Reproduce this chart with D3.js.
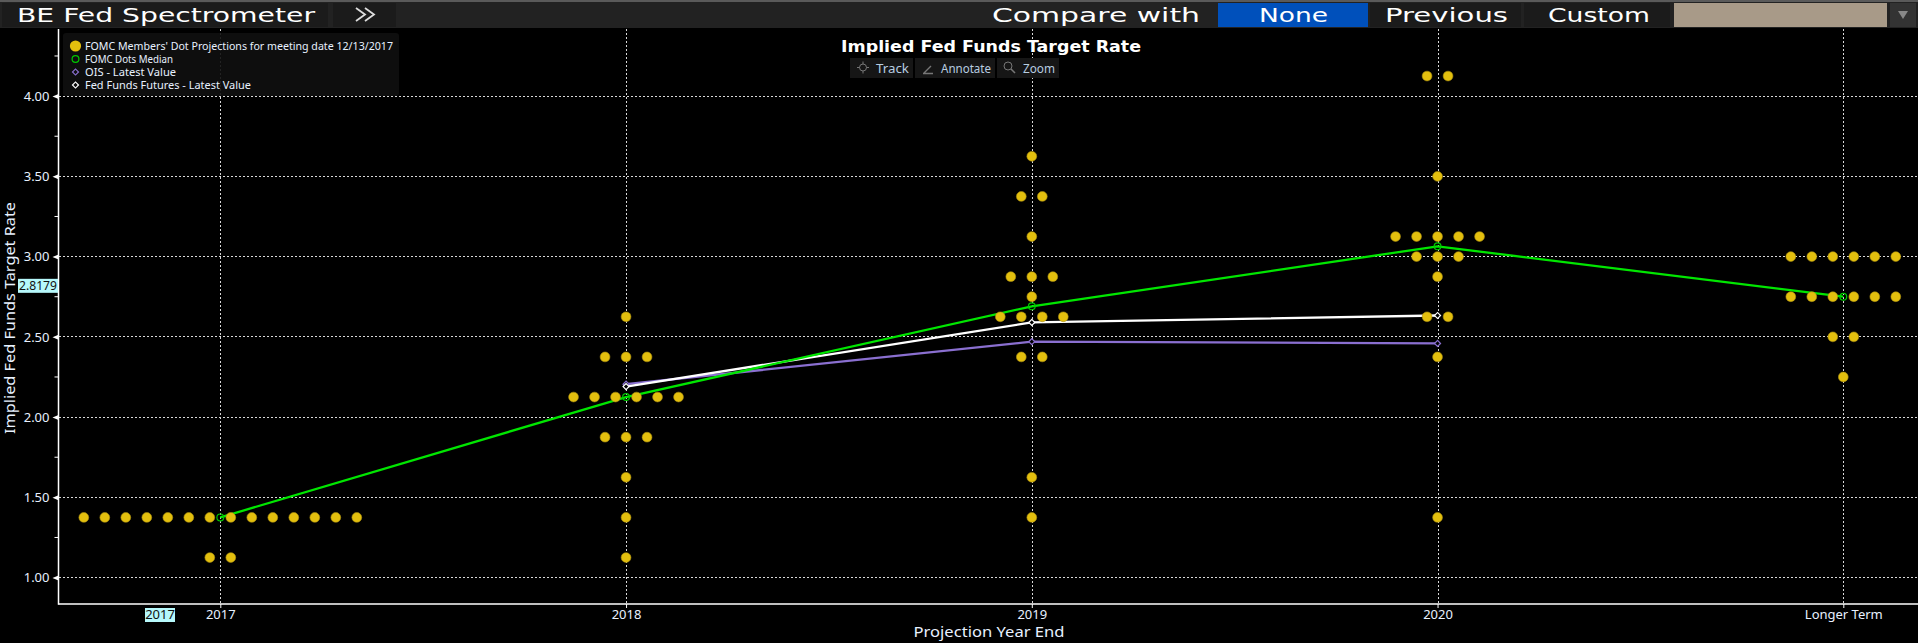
<!DOCTYPE html>
<html><head><meta charset="utf-8">
<script src="https://cdn.jsdelivr.net/npm/d3@7"></script>
<style>
html,body{margin:0;padding:0;background:#000;width:1918px;height:643px;overflow:hidden}
svg{display:block}
</style></head><body><svg id="c" width="1918" height="643"></svg>
<script>
const categories = ["2017","2018","2019","2020","Longer Term"];
const dots2017 = [[1.375,14],[1.125,2]];
const dots2018 = [[2.625,1],[2.375,3],[2.125,6],[1.875,3],[1.625,1],[1.375,1],[1.125,1]];
const dots2019 = [[3.625,1],[3.375,2],[3.125,1],[2.875,3],[2.75,1],[2.625,4],[2.375,2],[1.625,1],[1.375,1]];
const dots2020 = [[4.125,2],[3.5,1],[3.125,5],[3.0,3],[2.875,1],[2.625,2],[2.375,1],[1.375,1]];
const dotsLong = [[3.0,6],[2.75,6],[2.5,2],[2.25,1]];
const medianValues = [1.375,2.125,2.69,3.064,2.75];
const curveCategories = ["2018","2019","2020"];
const oisValues = [2.205,2.47,2.459];
const futuresValues = [2.19,2.59,2.633];
const yTicks = [1,1.5,2,2.5,3,3.5,4];
const yMinorTicks = [1.25,1.75,2.25,2.75,3.25,3.75,4.25];
const legendLabels = ["FOMC Members' Dot Projections for meeting date 12/13/2017","FOMC Dots Median","OIS - Latest Value","Fed Funds Futures - Latest Value"];
const lastValue = 2.8179;
const lastCategoryTag = "2017";

const svg = d3.select("#c");
const labelFont = "'Noto Sans', sans-serif";
const wideFont = "'DejaVu Sans', sans-serif";
const textColor = "#e8f1ff";
const axisX = 58.5, axisY = 604, plotTop = 29, plotRight = 1918;
const x = d3.scalePoint().domain(categories).range([220.3,1843.3]);
const y = d3.scaleLinear().domain([1,4]).range([577.6,96.1]);
const dotStep = 21;

// ---------- header bar ----------
const head = svg.append("g");
head.append("rect").attr("width",1918).attr("height",28).attr("fill","#222");
head.append("rect").attr("width",1918).attr("height",2).attr("fill","#5a5a5a");
function hbtn(x0,x1,fill){
  head.append("rect").attr("x",x0).attr("y",3).attr("width",x1-x0).attr("height",24).attr("fill",fill);
}
function htext(label,x0,x1){
  head.append("text").attr("x",x0).attr("y",22).attr("fill","#fff")
    .attr("font-family",wideFont).attr("font-size",20)
    .attr("textLength",x1-x0).attr("lengthAdjust","spacingAndGlyphs").text(label);
}
hbtn(2,328,"#1b1b1b"); htext("BE Fed Spectrometer",17,315);
hbtn(333,396,"#1b1b1b");
head.append("path").attr("d","M356 8l9 6.5l-9 6.5M365 8l9 6.5l-9 6.5").attr("fill","none").attr("stroke","#ddd").attr("stroke-width",1.8);
htext("Compare with",992,1200);
hbtn(1218,1368,"#0050bb"); htext("None",1259,1328);
hbtn(1370,1521,"#1b1b1b"); htext("Previous",1385,1508);
hbtn(1524,1670,"#1b1b1b"); htext("Custom",1548,1650);
hbtn(1674,1887,"#a89a88");
hbtn(1890,1916,"#333");
head.append("path").attr("d","M1898 11h10l-5 8z").attr("fill","#888");

// ---------- grid ----------
const plot = svg.append("g");
const grid = plot.append("g").attr("stroke","#d8d8d8").attr("stroke-width",1).attr("stroke-dasharray","2,2").attr("shape-rendering","crispEdges");
grid.selectAll("line.h").data(yTicks).join("line").attr("class","h")
  .attr("x1",axisX).attr("x2",plotRight).attr("y1",d=>Math.floor(y(d))+.5).attr("y2",d=>Math.floor(y(d))+.5);
grid.selectAll("line.v").data(categories).join("line").attr("class","v")
  .attr("x1",d=>Math.round(x(d))+.5).attr("x2",d=>Math.round(x(d))+.5).attr("y1",plotTop).attr("y2",axisY);

// ---------- lines ----------
const lineGen = d3.line().x(d=>x(d[0])).y(d=>y(d[1]));
const medianPts = d3.zip(categories,medianValues);
const oisPts = d3.zip(curveCategories,oisValues);
const futPts = d3.zip(curveCategories,futuresValues);
const strokeMedian="#00e600", strokeOis="#8a6fd0", strokeFut="#ffffff";
[[oisPts,strokeOis],[futPts,strokeFut],[medianPts,strokeMedian]].forEach(([p,c])=>{
  plot.append("path").attr("d",lineGen(p)).attr("fill","none").attr("stroke",c).attr("stroke-width",2.3);
});

// ---------- dots ----------
const dotsByCategory = [dots2017,dots2018,dots2019,dots2020,dotsLong];
const dotPts = [];
categories.forEach((c,i)=>{
  dotsByCategory[i].forEach(([v,n])=>{
    d3.range(n).forEach(k=>dotPts.push({c,v,off:(k-(n-1)/2)*dotStep}));
  });
});
plot.append("g").selectAll("circle").data(dotPts).join("circle")
  .attr("cx",d=>x(d.c)+d.off).attr("cy",d=>y(d.v)).attr("r",4.9)
  .attr("fill","#e3bf0e").attr("stroke","#a98f10").attr("stroke-width",.6);

// ---------- markers ----------
const diamond = d3.symbol().type(d3.symbolSquare).size(18);
plot.append("g").selectAll("circle").data(medianPts).join("circle")
  .attr("cx",d=>x(d[0])).attr("cy",d=>y(d[1])).attr("r",3.4)
  .attr("fill","none").attr("stroke","#00c800").attr("stroke-width",1.2);
[[oisPts,strokeOis],[futPts,strokeFut]].forEach(([p,c])=>{
  plot.append("g").selectAll("path").data(p).join("path").attr("d",diamond())
    .attr("transform",d=>`translate(${x(d[0])},${y(d[1])}) rotate(45)`)
    .attr("fill","#000").attr("stroke",c).attr("stroke-width",1.2);
});

// ---------- axes ----------
const yAxis = d3.axisLeft(y).tickValues(yTicks).tickFormat(d3.format(".2f")).tickSize(0).tickPadding(9);
const gy = svg.append("g").attr("transform",`translate(${axisX},0)`).call(yAxis);
gy.select(".domain").remove();
gy.selectAll("text").attr("fill",textColor).attr("font-family",labelFont).attr("font-size",13);
gy.selectAll(".tick").append("path").attr("d","M0 -2.5L-6 0L0 2.5Z").attr("fill","#fff");
gy.selectAll("line.minor").data(yMinorTicks).join("line").attr("class","minor")
  .attr("x1",-4).attr("x2",0).attr("y1",d=>y(d)).attr("y2",d=>y(d)).attr("stroke","#fff").attr("stroke-width",1);
svg.append("line").attr("x1",axisX).attr("x2",axisX).attr("y1",plotTop).attr("y2",axisY+.8).attr("stroke","#fff").attr("stroke-width",1.5);

const xAxis = d3.axisBottom(x).tickSize(4).tickPadding(2);
const gx = svg.append("g").attr("transform",`translate(0,${axisY})`).call(xAxis);
gx.select(".domain").remove();
gx.selectAll("line").attr("stroke","#fff");
gx.selectAll("text").attr("fill",textColor).attr("font-family",labelFont).attr("font-size",13);
svg.append("line").attr("x1",axisX).attr("x2",plotRight).attr("y1",axisY).attr("y2",axisY).attr("stroke","#fff").attr("stroke-width",1.5);

// axis titles
svg.append("text").attr("x",989).attr("y",637).attr("text-anchor","middle").attr("fill",textColor)
  .attr("font-family",labelFont).attr("font-size",15).attr("textLength",151).attr("lengthAdjust","spacingAndGlyphs").text("Projection Year End");
svg.append("text").attr("transform","translate(15,318) rotate(-90)").attr("text-anchor","middle").attr("fill",textColor)
  .attr("font-family",labelFont).attr("font-size",15).attr("textLength",232).attr("lengthAdjust","spacingAndGlyphs").text("Implied Fed Funds Target Rate");

// tags
const tagFill = "#b6f8fb";
svg.append("rect").attr("x",18).attr("y",y(lastValue)-7).attr("width",40).attr("height",14).attr("fill",tagFill);
svg.append("text").attr("x",38).attr("y",y(lastValue)+4.5).attr("text-anchor","middle").attr("fill","#111")
  .attr("font-family",labelFont).attr("font-size",13).attr("textLength",38).attr("lengthAdjust","spacingAndGlyphs").text(lastValue.toFixed(4));
svg.append("rect").attr("x",145).attr("y",608).attr("width",30).attr("height",14).attr("fill",tagFill);
svg.append("text").attr("x",160).attr("y",619).attr("text-anchor","middle").attr("fill","#111")
  .attr("font-family",labelFont).attr("font-size",13).text(lastCategoryTag);

// ---------- chart title & tools ----------
svg.append("text").attr("x",841).attr("y",52).attr("fill","#fff").attr("font-family",wideFont)
  .attr("font-weight","bold").attr("font-size",16).attr("textLength",300).attr("lengthAdjust","spacingAndGlyphs").text("Implied Fed Funds Target Rate");
const tools = svg.append("g");
[[850,913,"Track",876,909],[915,995,"Annotate",941,991],[997,1059,"Zoom",1023,1055]].forEach(([a,b,t,tx0,tx1])=>{
  tools.append("rect").attr("x",a).attr("y",58).attr("width",b-a).attr("height",20).attr("fill","#161616");
  tools.append("text").attr("x",tx0).attr("y",72.5).attr("fill","#b8cde0").attr("font-family",labelFont)
    .attr("font-size",13).attr("textLength",tx1-tx0).attr("lengthAdjust","spacingAndGlyphs").text(t);
});
tools.append("path").attr("d","M857 67.5h12M863 61.5v12").attr("stroke","#777").attr("stroke-width",1);
tools.append("circle").attr("cx",863).attr("cy",67.5).attr("r",3.5).attr("fill","#161616").attr("stroke","#777");
tools.append("path").attr("d","M924 73l7-7M923 73.5h10").attr("stroke","#777").attr("stroke-width",1.4);
tools.append("circle").attr("cx",1008).attr("cy",66).attr("r",4).attr("fill","none").attr("stroke","#777");
tools.append("path").attr("d","M1011 69l4 4").attr("stroke","#777").attr("stroke-width",1.6);

// ---------- legend ----------
const leg = svg.append("g");
leg.append("rect").attr("x",63).attr("y",33).attr("width",336).attr("height",63).attr("rx",3).attr("fill","#101010").attr("fill-opacity",.9);
const legY = d3.scalePoint().domain(legendLabels).range([46,85]);
const legWidths = [308,88,91,166];
leg.selectAll("text").data(legendLabels).join("text")
  .attr("x",85).attr("y",d=>legY(d)+4).attr("fill",textColor).attr("font-family",labelFont).attr("font-size",11.5)
  .attr("textLength",(d,i)=>legWidths[i]).attr("lengthAdjust","spacingAndGlyphs").text(d=>d);
leg.append("circle").attr("cx",75.5).attr("cy",legY(legendLabels[0])).attr("r",5.6).attr("fill","#e3bf0e");
leg.append("circle").attr("cx",75.5).attr("cy",legY(legendLabels[1])).attr("r",3.4).attr("fill","none").attr("stroke","#00c800").attr("stroke-width",1.2);
[[2,strokeOis],[3,strokeFut]].forEach(([i,c])=>{
  leg.append("path").attr("d",diamond()).attr("transform",`translate(75.5,${legY(legendLabels[i])}) rotate(45)`)
    .attr("fill","none").attr("stroke",c).attr("stroke-width",1.2);
});
</script></body></html>
